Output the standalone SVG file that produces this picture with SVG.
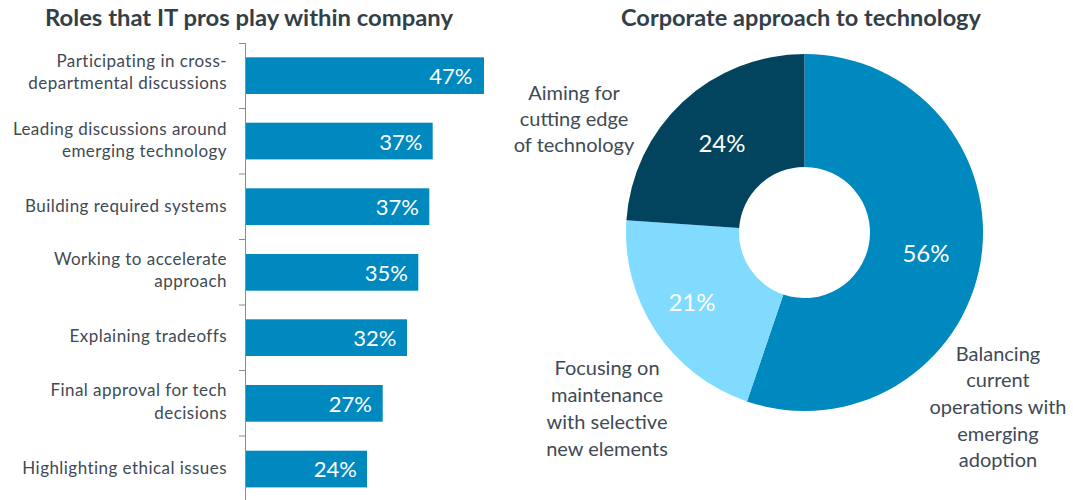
<svg xmlns="http://www.w3.org/2000/svg" width="1073" height="500" viewBox="0 0 1073 500">
<style>
text{font-family:Lato,"Open Sans","Liberation Sans",sans-serif}
.title{font-size:22px;font-weight:bold;fill:#333F48}
.lbl{font-size:17px;letter-spacing:0.45px;fill:#404A54;text-anchor:end}
.val{font-size:22px;fill:#FFFFFF;text-anchor:end}
.dval{font-size:24px;fill:#FFFFFF;text-anchor:middle}
.dlbl{font-size:20px;fill:#404A54;text-anchor:middle}
.bar{fill:#0089BF}
.axis{stroke:#8C8C8C;stroke-width:1;fill:none}
</style>
<rect width="1073" height="500" fill="#FFFFFF"/>
<text class="title" x="45" y="26" textLength="408" lengthAdjust="spacingAndGlyphs">Roles that IT pros play within company</text>
<text class="title" x="621" y="26" textLength="360" lengthAdjust="spacingAndGlyphs">Corporate approach to technology</text>

<g id="connectors">
<path class="axis" d="M245.5,43V500 M239,43.5H245.5 M239,108.5H245.5 M239,174H245.5 M239,239.5H245.5 M239,305H245.5 M239,370.5H245.5 M239,436H245.5"/>
</g>

<g id="bar-1">
<rect class="bar" x="246" y="57.3" width="238" height="36.7"/>
<text class="lbl" x="227" y="66.5">Participating in cross-</text>
<text class="lbl" x="227" y="89">departmental discussions</text>
<text class="val" x="472.5" y="84">47%</text>
</g>
<g id="bar-2">
<rect class="bar" x="246" y="122.7" width="186.7" height="36.7"/>
<text class="lbl" x="227" y="135">Leading discussions around</text>
<text class="lbl" x="227" y="156.5">emerging technology</text>
<text class="val" x="422.5" y="149.5">37%</text>
</g>
<g id="bar-3">
<rect class="bar" x="246" y="188.3" width="183.3" height="36.7"/>
<text class="lbl" x="227" y="212">Building required systems</text>
<text class="val" x="419" y="215">37%</text>
</g>
<g id="bar-4">
<rect class="bar" x="246" y="254" width="172.3" height="36.7"/>
<text class="lbl" x="227" y="265">Working to accelerate</text>
<text class="lbl" x="227" y="286.7">approach</text>
<text class="val" x="408" y="280.5">35%</text>
</g>
<g id="bar-5">
<rect class="bar" x="246" y="319.3" width="161" height="36.7"/>
<text class="lbl" x="227" y="342">Explaining tradeoffs</text>
<text class="val" x="396.5" y="346">32%</text>
</g>
<g id="bar-6">
<rect class="bar" x="246" y="385" width="136.7" height="36.7"/>
<text class="lbl" x="227" y="396">Final approval for tech</text>
<text class="lbl" x="227" y="419">decisions</text>
<text class="val" x="372" y="411.5">27%</text>
</g>
<g id="bar-7">
<rect class="bar" x="246" y="450.7" width="121" height="36.7"/>
<text class="lbl" x="227" y="473.5">Highlighting ethical issues</text>
<text class="val" x="357" y="477">24%</text>
</g>

<g id="seg-balancing">
<path fill="#0089BF" d="M804.5,54 A178.5,178.5 0 1 1 746.97,401.47 L783.39,294.5 A65.5,65.5 0 1 0 804.5,167 Z"/>
<text class="dval" x="926" y="262">56%</text>
<text class="dlbl" x="998" y="361">Balancing</text>
<text class="dlbl" x="998" y="387">current</text>
<text class="dlbl" x="998" y="414">operations with</text>
<text class="dlbl" x="998" y="441">emerging</text>
<text class="dlbl" x="998" y="467">adoption</text>
</g>
<g id="seg-maintenance">
<path fill="#80DBFF" d="M746.97,401.47 A178.5,178.5 0 0 1 626.41,220.36 L739.15,228.04 A65.5,65.5 0 0 0 783.39,294.5 Z"/>
<text class="dval" x="692" y="311">21%</text>
<text class="dlbl" x="607" y="375">Focusing on</text>
<text class="dlbl" x="607" y="402">maintenance</text>
<text class="dlbl" x="607" y="429">with selective</text>
<text class="dlbl" x="607" y="456">new elements</text>
</g>
<g id="seg-cutting-edge">
<path fill="#02445E" d="M626.41,220.36 A178.5,178.5 0 0 1 804.5,54 L804.5,167 A65.5,65.5 0 0 0 739.15,228.04 Z"/>
<text class="dval" x="722" y="152">24%</text>
<text class="dlbl" x="574" y="99.5">Aiming for</text>
<text class="dlbl" x="574" y="126">cutting edge</text>
<text class="dlbl" x="574" y="152">of technology</text>
</g>
</svg>
